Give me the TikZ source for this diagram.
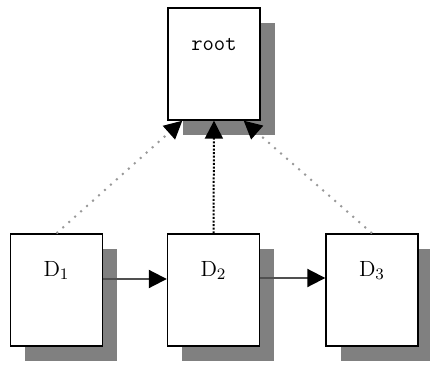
\documentclass[tikz,border=0pt]{standalone}
\usepackage{fontspec}
\usetikzlibrary{arrows.meta,shadows}
\definecolor{shadowgray}{HTML}{808080}
\definecolor{dotgray}{HTML}{999999}
\definecolor{linegray}{HTML}{505050}
\tikzset{
  docbox/.style={draw=black, line width=0.7pt, fill=white, inner sep=0pt,
    minimum width=46pt, minimum height=56pt,
    drop shadow={shadow xshift=7.5pt, shadow yshift=-7.5pt, fill=shadowgray, opacity=1}},
  boxtext/.style={inner sep=0pt, font=\fontsize{11}{13}\selectfont},
  tip/.style={-{Triangle[length=9pt,width=9pt,color=black]}},
  diag/.style={tip, draw=dotgray, line width=1pt, dash pattern=on 1pt off 3pt},
  vert/.style={tip, draw=black, line width=1pt, dash pattern=on 1pt off 0.8pt},
  horiz/.style={tip, draw=linegray, line width=1pt}
}
\begin{document}
\begin{tikzpicture}[x=0.5pt,y=-0.5pt]
\useasboundingbox (0,0) rectangle (430,365);
\node[docbox] (root) at (214,64) {};
\node[docbox] (d1) at (56.5,290) {};
\node[docbox] (d2) at (213.5,290) {};
\node[docbox] (d3) at (372,290) {};
\node[boxtext, font=\ttfamily\fontsize{11}{13}\selectfont] (troot) at ([yshift=-18.5pt]root.north) {root};
\node[boxtext] (t1) at ([yshift=-18.5pt]d1.north) {D$_1$};
\node[boxtext] (t2) at ([yshift=-18.5pt]d2.north) {D$_2$};
\node[boxtext] (t3) at ([yshift=-18.5pt]d3.north) {D$_3$};
\draw[diag] (d1.north) -- ([xshift=7.5pt]root.south west);
\draw[diag] (d3.north) -- ([xshift=-8.5pt]root.south east);
\draw[vert] (d2.north) -- (root.south);
\draw[horiz] ([yshift=5.5pt]d1.east) -- ([yshift=5.5pt]d2.west);
\draw[horiz] ([yshift=6pt]d2.east) -- ([yshift=6pt]d3.west);
\end{tikzpicture}
\end{document}
